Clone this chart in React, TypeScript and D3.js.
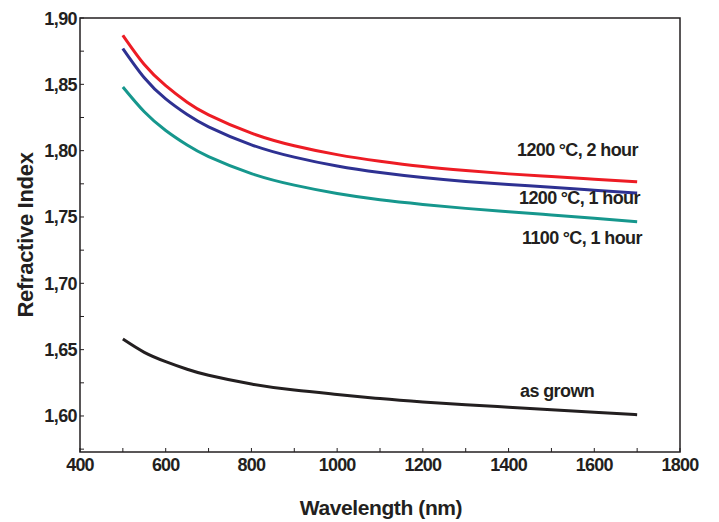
import React from "react";
import * as d3 from "d3";

const wavelengths = [500, 550, 600, 650, 700, 800, 900, 1000, 1100, 1200, 1300, 1400, 1500, 1600, 1700];
const red2h = [1.887, 1.865, 1.849, 1.8365, 1.827, 1.8132, 1.8037, 1.797, 1.792, 1.788, 1.785, 1.7825, 1.7805, 1.7785, 1.7765];
const blue1h = [1.877, 1.855, 1.839, 1.8272, 1.818, 1.8044, 1.7951, 1.7884, 1.7835, 1.7797, 1.7768, 1.7745, 1.7724, 1.7702, 1.768];
const teal1100 = [1.848, 1.8293, 1.8152, 1.8042, 1.7955, 1.7827, 1.774, 1.7677, 1.763, 1.7595, 1.7565, 1.754, 1.7515, 1.749, 1.7465];
const asGrown = [1.658, 1.648, 1.641, 1.6352, 1.6307, 1.6241, 1.6195, 1.6162, 1.6131, 1.6106, 1.6085, 1.6066, 1.6047, 1.6028, 1.601];

const xTickLabels = [400, 600, 800, 1000, 1200, 1400, 1600, 1800];
const yTickLabels = [1.6, 1.65, 1.7, 1.75, 1.8, 1.85, 1.9];

const series = [
  { name: "1200°C, 2 hour", values: red2h, color: "#ed1c24", label: ["1200", "C, 2 hour"], lx: 517, ly: 156 },
  { name: "1200°C, 1 hour", values: blue1h, color: "#2e3192", label: ["1200", "C, 1 hour"], lx: 519, ly: 204 },
  { name: "1100°C, 1 hour", values: teal1100, color: "#16978d", label: ["1100", "C, 1 hour"], lx: 522, ly: 244 },
  { name: "as grown", values: asGrown, color: "#231f20", label: ["as grown"], lx: 520, ly: 397 },
];

const W = 719;
const H = 522;
const L = 80, R = 680, T = 18, B = 452;

export default function App() {
  const x = d3.scaleLinear().domain([400, 1800]).range([L, R]);
  const y = d3.scaleLinear().domain([1.6 - (B - 416) / 1326, 1.9]).range([B, T]);
  const line = d3
    .line<number>()
    .x((_, i) => x(wavelengths[i]))
    .y((v) => y(v))
    .curve(d3.curveNatural);

  const xMinor = d3.range(400, 1801, 100);
  const yMinor = d3.range(1.575, 1.9001, 0.025);
  const fmt = (v: number) => v.toFixed(2).replace(".", ",");
  const textColor = "#231f20";
  const font = "'Liberation Sans', Arial, sans-serif";

  return (
    <svg width={W} height={H} style={{ position: "absolute", left: 0, top: 0, background: "#fff" }} fontFamily={font}>
      <rect x={L} y={T} width={R - L} height={B - T} fill="none" stroke={textColor} strokeWidth={1.5} />
      {xMinor.map((t) => (
        <line key={"xt" + t} x1={x(t)} x2={x(t)} y1={B} y2={B - 4} stroke={textColor} strokeWidth={1} />
      ))}
      {yMinor.map((t) => (
        <line key={"yt" + t} x1={L} x2={L + 4} y1={y(t)} y2={y(t)} stroke={textColor} strokeWidth={1} />
      ))}
      {xTickLabels.map((t) => (
        <text key={"xl" + t} x={x(t)} y={471} textAnchor="middle" fontSize={18} fontWeight="bold" letterSpacing={-0.8} fill={textColor}>
          {t}
        </text>
      ))}
      {yTickLabels.map((t) => (
        <text key={"yl" + t} x={77} y={y(t) + 6.5} textAnchor="end" fontSize={18} fontWeight="bold" letterSpacing={-0.6} fill={textColor}>
          {fmt(t)}
        </text>
      ))}
      <text x={381} y={515} textAnchor="middle" fontSize={21} fontWeight="bold" letterSpacing={-0.4} fill={textColor}>
        Wavelength (nm)
      </text>
      <text
        transform={`translate(33, ${(T + B) / 2}) rotate(-90)`}
        textAnchor="middle"
        fontSize={22}
        fontWeight="bold"
        letterSpacing={-0.3}
        fill={textColor}
      >
        Refractive Index
      </text>
      {series.map((s) => (
        <path key={s.name} d={line(s.values) || ""} fill="none" stroke={s.color} strokeWidth={3} />
      ))}
      {series.map((s) => (
        <text key={"lab" + s.name} x={s.lx} y={s.ly} fontSize={18} fontWeight="bold" letterSpacing={-0.6} fill={textColor}>
          {s.label.length === 2 ? (
            <>
              {s.label[0]}
              <tspan dx={4}>°</tspan>
              <tspan>{s.label[1]}</tspan>
            </>
          ) : (
            s.label[0]
          )}
        </text>
      ))}
    </svg>
  );
}
